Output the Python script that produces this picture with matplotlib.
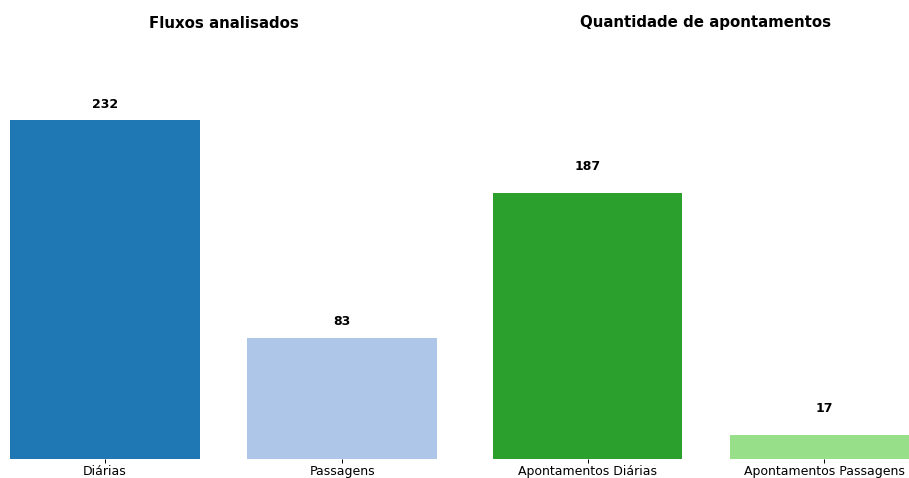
import matplotlib
matplotlib.use("Agg")
import matplotlib.pyplot as plt

# Data
fluxos_labels = ["Diárias", "Passagens"]
fluxos_values = [232, 83]
apont_labels = ["Apontamentos Diárias", "Apontamentos Passagens"]
apont_values = [187, 17]

fluxos_colors = ["#1f77b4", "#aec7e8"]
apont_colors = ["#2ca02c", "#98df8a"]

fig = plt.figure(figsize=(909 / 90, 478 / 90), dpi=90)

# axes placed by hand: right panel runs a little past the figure edge
ax1 = fig.add_axes([10 / 909, 19 / 478, 427 / 909, 424 / 478])
ax2 = fig.add_axes([493 / 909, 19 / 478, 426 / 909, 424 / 478])

panels = [
    (ax1, fluxos_labels, fluxos_values, fluxos_colors, "Fluxos analisados", 290, 8.4),
    (ax2, apont_labels, apont_values, apont_colors, "Quantidade de apontamentos", 298, 15.9),
]

for ax, labels, values, colors, title, ytop, offset in panels:
    bars = ax.bar(labels, values, color=colors, width=0.8)
    for b, v in zip(bars, values):
        ax.text(b.get_x() + b.get_width() / 2, v + offset, str(v),
                ha="center", va="baseline", fontsize=10, fontweight="bold")
    ax.set_title(title, fontsize=12, fontweight="bold")
    ax.set_xlim(-0.4, 1.4)
    ax.set_ylim(0, ytop)
    ax.set_yticks([])
    ax.tick_params(axis="x", labelsize=10, pad=1)
    for s in ax.spines.values():
        s.set_visible(False)

fig.savefig("out.png", dpi=90)
